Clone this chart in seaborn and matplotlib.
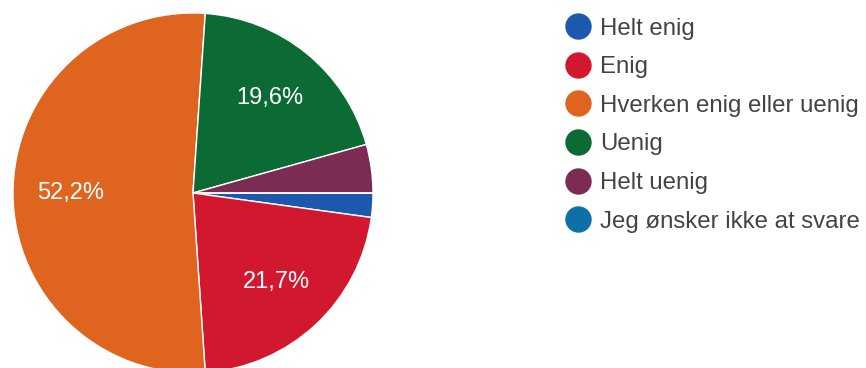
import matplotlib
matplotlib.use("Agg")
import matplotlib.pyplot as plt
from matplotlib.lines import Line2D
import seaborn as sns

# Survey answers (number of respondents per option)
categories = [
    "Helt enig",
    "Enig",
    "Hverken enig eller uenig",
    "Uenig",
    "Helt uenig",
    "Jeg ønsker ikke at svare",
]
counts = [1, 10, 24, 9, 2, 0]
colors = ["#1c58ad", "#d1182f", "#de6420", "#0c6b35", "#7c2c52", "#0f6fa8"]

sns.set_theme(style="white")
plt.rcParams["font.family"] = ["Liberation Sans", "DejaVu Sans"]
palette = sns.color_palette(colors)

W, H = 866, 368
fig = plt.figure(figsize=(W / 100, H / 100), dpi=100)
fig.patch.set_facecolor("white")

# Pie axes: centre at (193, 193) px from top-left, radius 180 px
cx, cy, r = 193, 193, 180
ax = fig.add_axes([(cx - r) / W, (H - cy - r) / H, 2 * r / W, 2 * r / H])
ax.set_xlim(-1, 1)
ax.set_ylim(-1, 1)
ax.set_aspect("equal")
ax.axis("off")


def fmt(p):
    if p < 5:
        return ""
    return f"{p:.1f}".replace(".", ",") + "%"


wedges, texts, autotexts = ax.pie(
    counts,
    colors=palette,
    startangle=0,
    counterclock=False,
    radius=1.0,
    autopct=fmt,
    pctdistance=0.68,
    wedgeprops=dict(edgecolor="white", linewidth=1.0),
    textprops=dict(color="white", fontsize=17),
)
ax.set_xlim(-1, 1)
ax.set_ylim(-1, 1)

# Legend on the right
handles = [
    Line2D([0], [0], marker="o", linestyle="none", markersize=18,
           markerfacecolor=c, markeredgecolor=c)
    for c in palette
]
leg = fig.legend(
    handles, categories,
    loc="upper left",
    bbox_to_anchor=(554 / W, 1 - 8 / H),
    frameon=False,
    fontsize=17.3,
    labelcolor="#444444",
    handletextpad=0.33,
    handlelength=1.2,
    labelspacing=0.69,
    borderaxespad=0,
)

fig.savefig("out.png", dpi=100, facecolor="white")
